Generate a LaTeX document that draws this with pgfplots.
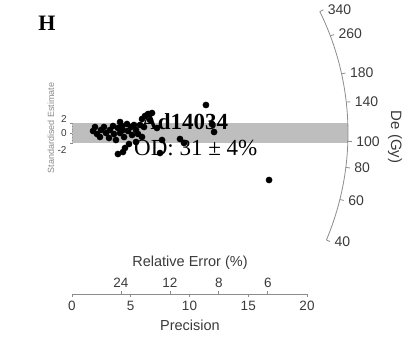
\documentclass[border=0pt]{standalone}
\usepackage{pgfplots}
\pgfplotsset{compat=1.18}
\usepackage{fontspec}
\setmainfont{Liberation Serif}
\setsansfont{Liberation Sans}
\definecolor{axisgray}{HTML}{8C8C8C}
\definecolor{labelgray}{HTML}{3A3A3A}
\definecolor{lightlabel}{HTML}{8A8A8A}
\definecolor{bandgray}{HTML}{BEBEBE}

% precision (1/sigma) and standardised estimate of each aliquot
\pgfplotstableread{
x y
1.79 0.4
1.96 1.2
2.13 -0.2
2.38 -0.8
2.47 0.6
2.72 1.2
2.89 0.0
3.15 -1.0
3.23 0.6
3.49 1.4
3.57 -0.2
3.74 -1.4
3.91 1.0
4.09 0.0
4.26 1.4
4.34 0.6
4.43 -0.8
4.68 1.8
4.77 0.4
5.02 1.2
5.11 -0.4
5.28 1.6
5.45 0.6
5.62 -0.2
5.79 1.6
5.96 2.8
6.13 1.2
6.21 3.4
6.47 3.8
6.81 4.0
5.96 -0.8
5.45 -1.8
4.85 -2.2
4.51 -3.0
4.34 -3.8
3.91 -4.2
7.23 1.0
7.66 -1.4
7.49 -4.0
9.19 -1.2
9.53 -2.0
11.40 5.6
12.09 0.2
11.91 1.8
16.77 -9.4
6.64 2.6
4.09 2.2
}\aliquots

\begin{document}
\begin{tikzpicture}[x=1pt,y=1pt]
\path[use as bounding box] (0,0) rectangle (419,349);

\begin{axis}[
  at={(72pt,91pt)}, anchor=south west,
  scale only axis, width=305.5pt, height=250pt,
  xmin=0, xmax=26, ymin=-25, ymax=25,
  hide axis, clip=false]
  % 2-sigma band around the central value
  \fill[bandgray] (axis cs:0,-2) rectangle (axis cs:23.47,2);
  \addplot[only marks, mark=*, mark size=3.1pt, black] table[x=x, y=y] {\aliquots};
\end{axis}

% radial De axis (log scale, central value 107.5 Gy)
\coordinate (O) at (72,216);
\pgfmathsetmacro\zz{ln(107.5)}
\pgfmathsetmacro\thTop{atan(0.4255*(ln(340)-\zz))}
\pgfmathsetmacro\thBot{atan(0.4255*(ln(40)-\zz))}
\draw[axisgray, line width=0.8pt] (O) ++(\thTop:276) arc[start angle=\thTop, end angle=\thBot, radius=276];
\foreach \D in {340,260,180,140,100,80,60,40} {
  \pgfmathsetmacro\th{atan(0.4255*(ln(\D)-\zz))}
  \draw[axisgray, line width=0.8pt] (O) ++(\th:276) -- ++(\th:4);
  \path (O) ++(\th:281) node[anchor=west, font=\sffamily\fontsize{14}{16}\selectfont, text=labelgray] {\D};
}

\begin{scope}[shift={(0pt,349pt)}, y=-1pt]
  % panel letter and sample annotation
  \node[font=\bfseries\fontsize{22}{24}\selectfont] at (47,23) {H};
  \node[anchor=base west, inner sep=0pt, font=\bfseries\fontsize{23}{25}\selectfont] at (141,129) {Ad14034};
  \node[anchor=base west, inner sep=0pt, font=\fontsize{23}{25}\selectfont] at (134,155) {OD: 31 ± 4\%};

  % standardised estimate axis
  \draw[axisgray, dotted, line width=0.8pt] (72,123) -- (72,143);
  \foreach \yy in {123,133,143} \draw[axisgray, line width=0.6pt] (72,\yy) -- (70,\yy);
  \begin{scope}[every node/.style={font=\sffamily\fontsize{10}{12}\selectfont, text=labelgray}]
    \node at (64,119) {2};
    \node at (64,133) {0};
    \node at (62,150) {-2};
  \end{scope}
  \node[rotate=90, font=\sffamily\fontsize{9}{11}\selectfont, text=lightlabel] at (51,128) {Standardised Estimate};

  % De axis title
  \node[rotate=-90, font=\sffamily\fontsize{15}{17}\selectfont, text=labelgray] at (395,137) {De (Gy)};

  % precision / relative error axis
  \draw[axisgray, line width=0.8pt] (72,294) -- (307,294);
  \foreach \p in {0,5,10,15,20} {
    \draw[axisgray, line width=0.8pt] ({72+11.75*\p},294) -- ({72+11.75*\p},297);
    \node[font=\sffamily\fontsize{13.5}{15}\selectfont, text=labelgray] at ({72+11.75*\p},306) {\p};
  }
  \foreach \re in {24,12,8,6} {
    \pgfmathsetmacro\px{72+11.75*100/\re}
    \draw[axisgray, line width=0.8pt] (\px,294) -- (\px,291);
    \node[font=\sffamily\fontsize{13.5}{15}\selectfont, text=labelgray] at (\px,283) {\re};
  }
  \node[font=\sffamily\fontsize{14.5}{16}\selectfont, text=labelgray] at (190,263) {Relative Error (\%)};
  \node[font=\sffamily\fontsize{14.5}{16}\selectfont, text=labelgray] at (190,325) {Precision};
\end{scope}
\end{tikzpicture}
\end{document}
